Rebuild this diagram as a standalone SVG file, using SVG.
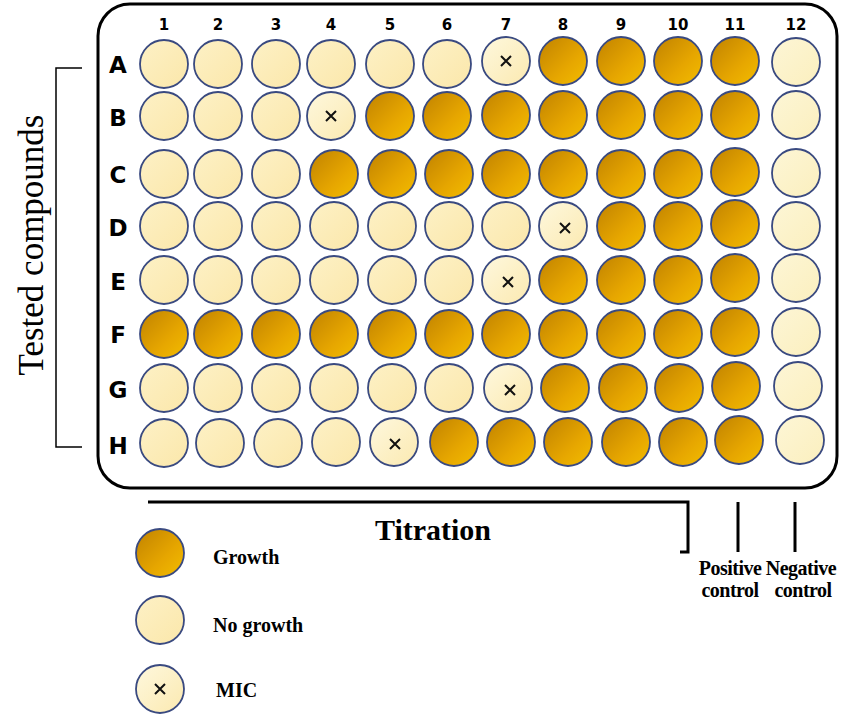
<svg xmlns="http://www.w3.org/2000/svg" width="850" height="726" viewBox="0 0 850 726">
<defs>
<linearGradient id="gGrow" x1="0" y1="0" x2="1" y2="1">
<stop offset="0" stop-color="#c08200"/>
<stop offset="0.6" stop-color="#e6a600"/>
<stop offset="1" stop-color="#f3bd00"/>
</linearGradient>
<linearGradient id="gNo" x1="0" y1="0" x2="1" y2="1">
<stop offset="0" stop-color="#fdf1c6"/>
<stop offset="1" stop-color="#fbe7aa"/>
</linearGradient>
<linearGradient id="gNeg" x1="0" y1="0" x2="1" y2="1">
<stop offset="0" stop-color="#fdf6d6"/>
<stop offset="1" stop-color="#fbefbe"/>
</linearGradient>
<linearGradient id="gMic" x1="0" y1="0" x2="1" y2="1">
<stop offset="0" stop-color="#fef8de"/>
<stop offset="1" stop-color="#fbe9b0"/>
</linearGradient>
<g id="x"><path d="M-5,-5 L5,5 M5,-5 L-5,5" stroke="#111" stroke-width="2" fill="none"/></g>
</defs>
<style>
.w{stroke:#3a4a80;stroke-width:1.8}
.g{fill:url(#gGrow)}
.n{fill:url(#gNo)}
.e{fill:url(#gNeg)}
.m{fill:url(#gMic)}
.lbl{font-family:"DejaVu Sans",sans-serif;font-weight:bold;font-size:15px;fill:#000;text-anchor:middle}
.row{font-family:"DejaVu Sans",sans-serif;font-weight:bold;font-size:23px;fill:#000;text-anchor:middle}
.ser{font-family:"Liberation Serif",serif;fill:#000}
.leg{font-family:"Liberation Serif",serif;font-weight:bold;font-size:20px;fill:#000}
.ctl{font-family:"Liberation Serif",serif;font-weight:bold;font-size:20px;letter-spacing:-0.5px;fill:#000;text-anchor:middle}
.ln{stroke:#000;stroke-width:3;fill:none}
.br{stroke:#000;stroke-width:1.5;fill:none}
</style>
<g id="plate">
<rect x="98" y="4" width="739" height="484" rx="32" ry="32" fill="#fff" stroke="#000" stroke-width="3"/>
</g>
<g id="colLabels" class="lbl">
<text x="164" y="30">1</text><text x="218" y="30">2</text><text x="276" y="30">3</text><text x="331" y="30">4</text>
<text x="390" y="30">5</text><text x="447" y="30">6</text><text x="506" y="30">7</text><text x="563" y="30">8</text>
<text x="621" y="30">9</text><text x="678" y="30">10</text><text x="735" y="30">11</text><text x="796" y="30">12</text>
</g>
<g id="rowLabels" class="row">
<text x="118" y="73">A</text><text x="118" y="126">B</text><text x="118" y="183">C</text><text x="118" y="236">D</text>
<text x="118" y="290">E</text><text x="118" y="343">F</text><text x="118" y="398">G</text><text x="118" y="454">H</text>
</g>
<g id="wells">
<circle class="w n" cx="164" cy="64" r="24"/><circle class="w n" cx="218" cy="64" r="24"/><circle class="w n" cx="276" cy="64" r="24"/><circle class="w n" cx="331" cy="64" r="24"/>
<circle class="w n" cx="390" cy="64" r="24"/><circle class="w n" cx="447" cy="64" r="24"/><circle class="w m" cx="506" cy="61" r="24"/><circle class="w g" cx="563" cy="61" r="24"/>
<circle class="w g" cx="621" cy="61" r="24"/><circle class="w g" cx="678" cy="61" r="24"/><circle class="w g" cx="735" cy="61" r="24"/><circle class="w e" cx="796" cy="62" r="24"/>
<use href="#x" x="506" y="61"/>
<circle class="w n" cx="164" cy="116" r="24"/><circle class="w n" cx="218" cy="116" r="24"/><circle class="w n" cx="276" cy="116" r="24"/><circle class="w m" cx="331" cy="116" r="24"/>
<circle class="w g" cx="390" cy="116" r="24"/><circle class="w g" cx="447" cy="116" r="24"/><circle class="w g" cx="506" cy="115" r="24"/><circle class="w g" cx="563" cy="115" r="24"/>
<circle class="w g" cx="621" cy="115" r="24"/><circle class="w g" cx="678" cy="115" r="24"/><circle class="w g" cx="735" cy="115" r="24"/><circle class="w e" cx="796" cy="115" r="24"/>
<use href="#x" x="331" y="116"/>
<circle class="w n" cx="164" cy="174" r="24"/><circle class="w n" cx="218" cy="174" r="24"/><circle class="w n" cx="276" cy="174" r="24"/><circle class="w g" cx="334" cy="174" r="24"/>
<circle class="w g" cx="392" cy="174" r="24"/><circle class="w g" cx="449" cy="174" r="24"/><circle class="w g" cx="506" cy="174" r="24"/><circle class="w g" cx="563" cy="174" r="24"/>
<circle class="w g" cx="621" cy="174" r="24"/><circle class="w g" cx="678" cy="174" r="24"/><circle class="w g" cx="735" cy="172" r="24"/><circle class="w e" cx="796" cy="173" r="24"/>
<circle class="w n" cx="164" cy="226" r="24"/><circle class="w n" cx="218" cy="226" r="24"/><circle class="w n" cx="276" cy="226" r="24"/><circle class="w n" cx="334" cy="226" r="24"/>
<circle class="w n" cx="392" cy="226" r="24"/><circle class="w n" cx="449" cy="226" r="24"/><circle class="w n" cx="506" cy="226" r="24"/><circle class="w m" cx="563" cy="226" r="24"/>
<circle class="w g" cx="621" cy="226" r="24"/><circle class="w g" cx="678" cy="226" r="24"/><circle class="w g" cx="735" cy="224" r="24"/><circle class="w e" cx="796" cy="226" r="24"/>
<use href="#x" x="565" y="228"/>
<circle class="w n" cx="164" cy="280" r="24"/><circle class="w n" cx="218" cy="280" r="24"/><circle class="w n" cx="276" cy="280" r="24"/><circle class="w n" cx="334" cy="280" r="24"/>
<circle class="w n" cx="392" cy="280" r="24"/><circle class="w n" cx="449" cy="280" r="24"/><circle class="w m" cx="506" cy="280" r="24"/><circle class="w g" cx="563" cy="280" r="24"/>
<circle class="w g" cx="621" cy="280" r="24"/><circle class="w g" cx="678" cy="280" r="24"/><circle class="w g" cx="735" cy="278" r="24"/><circle class="w e" cx="796" cy="278" r="24"/>
<use href="#x" x="508" y="282"/>
<circle class="w g" cx="164" cy="334" r="24"/><circle class="w g" cx="218" cy="334" r="24"/><circle class="w g" cx="276" cy="334" r="24"/><circle class="w g" cx="334" cy="334" r="24"/>
<circle class="w g" cx="392" cy="334" r="24"/><circle class="w g" cx="449" cy="334" r="24"/><circle class="w g" cx="506" cy="334" r="24"/><circle class="w g" cx="563" cy="334" r="24"/>
<circle class="w g" cx="621" cy="334" r="24"/><circle class="w g" cx="678" cy="334" r="24"/><circle class="w g" cx="735" cy="332" r="24"/><circle class="w e" cx="796" cy="332" r="24"/>
<circle class="w n" cx="164" cy="388" r="24"/><circle class="w n" cx="218" cy="388" r="24"/><circle class="w n" cx="276" cy="388" r="24"/><circle class="w n" cx="334" cy="388" r="24"/>
<circle class="w n" cx="392" cy="388" r="24"/><circle class="w n" cx="449" cy="388" r="24"/><circle class="w m" cx="508" cy="388" r="24"/><circle class="w g" cx="565" cy="388" r="24"/>
<circle class="w g" cx="623" cy="388" r="24"/><circle class="w g" cx="679" cy="388" r="24"/><circle class="w g" cx="736" cy="386" r="24"/><circle class="w e" cx="798" cy="386" r="24"/>
<use href="#x" x="510" y="390"/>
<circle class="w n" cx="164" cy="443" r="24"/><circle class="w n" cx="220" cy="443" r="24"/><circle class="w n" cx="278" cy="443" r="24"/><circle class="w n" cx="336" cy="442" r="24"/>
<circle class="w m" cx="394" cy="442" r="24"/><circle class="w g" cx="454" cy="442" r="24"/><circle class="w g" cx="511" cy="442" r="24"/><circle class="w g" cx="568" cy="442" r="24"/>
<circle class="w g" cx="626" cy="442" r="24"/><circle class="w g" cx="683" cy="442" r="24"/><circle class="w g" cx="739" cy="440" r="24"/><circle class="w e" cx="800" cy="440" r="24"/>
<use href="#x" x="395" y="444"/>
</g>
<g id="connectors">
<path class="br" d="M82,68 H56 V447 H82"/>
<path class="ln" d="M148,502 H688 V552 H680"/>
<line class="ln" x1="738" y1="502" x2="738" y2="552"/>
<line class="ln" x1="795" y1="502" x2="795" y2="552"/>
</g>
<g id="testedLabel">
<text class="ser" font-size="35" text-anchor="middle" transform="translate(43,245) rotate(-90)">Tested compounds</text>
</g>
<g id="titration">
<text class="ser" font-size="30" font-weight="bold" x="433" y="540" text-anchor="middle">Titration</text>
</g>
<g id="posControl">
<text class="ctl" x="730" y="575">Positive</text>
<text class="ctl" x="730" y="597">control</text>
</g>
<g id="negControl">
<text class="ctl" x="801" y="575">Negative</text>
<text class="ctl" x="803" y="597">control</text>
</g>
<g id="legend">
<circle class="w g" cx="160" cy="553" r="24"/>
<circle class="w n" cx="160" cy="620" r="24"/>
<circle class="w m" cx="160" cy="689" r="24"/>
<use href="#x" x="160" y="689"/>
<text class="leg" x="213" y="564">Growth</text>
<text class="leg" x="213" y="632">No growth</text>
<text class="leg" x="216" y="697">MIC</text>
</g>
</svg>
